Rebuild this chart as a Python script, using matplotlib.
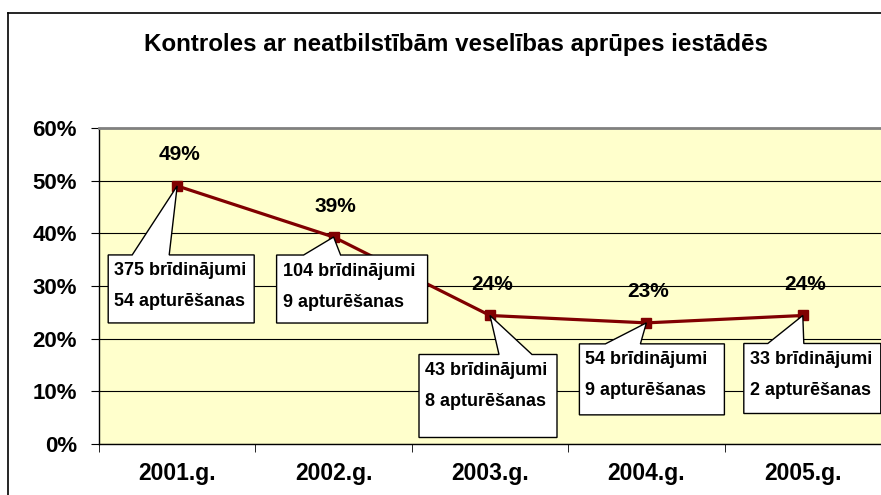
import matplotlib
matplotlib.use("Agg")
import matplotlib.pyplot as plt
from matplotlib.patches import Polygon
from matplotlib.lines import Line2D
from matplotlib.transforms import IdentityTransform

plt.rcParams['font.family'] = ['Liberation Sans', 'DejaVu Sans']

years = ['2001.g.', '2002.g.', '2003.g.', '2004.g.', '2005.g.']
share = [0.49, 0.393, 0.244, 0.23, 0.244]
warnings = [375, 104, 43, 54, 33]
suspensions = [54, 9, 8, 9, 2]

# callout layout in pixels relative to the point: box left, right, top, bottom, wedge base left, right
callouts = [
    (-69, 77, 69, 137, -45, -8),
    (-57, 94, 18, 86, -30, 7),
    (-71, 67, 39, 122, 9, 42),
    (-67, 78, 21, 92, -41, -6),
    (-59, 78, 28, 98, -35, 1),
]

W, H = 881, 495
fig = plt.figure(figsize=(W / 100, H / 100), dpi=100)
ax = fig.add_axes([99 / W, 51 / H, 782 / W, 316 / H])
ax.set_facecolor('#FFFFCC')

x = list(range(len(years)))
ax.plot(x, share, color='#800000', lw=2.3, marker='s', ms=7, zorder=3)

ax.set_xlim(-0.5, len(years) - 0.5)
ax.set_ylim(0, 0.6)
ax.set_yticks([i / 10 for i in range(7)])
ax.set_yticklabels([f"{i * 10}%" for i in range(7)], fontsize=16, fontweight='bold')
ax.set_xticks(x)
ax.set_xticklabels(years, fontsize=16.5, fontweight='bold')
ax.set_xticks([i - 0.5 for i in range(len(years) + 1)], minor=True)
ax.tick_params(axis='x', which='major', length=0, pad=13)
ax.tick_params(axis='x', which='minor', length=6, direction='out')
ax.tick_params(axis='y', length=6, direction='out', pad=10)
ax.grid(axis='y', color='black', lw=0.8)
ax.set_axisbelow(True)
for s in ['left', 'bottom']:
    ax.spines[s].set_color('black')
    ax.spines[s].set_linewidth(1.0)
ax.spines['top'].set_color('#808080')
ax.spines['top'].set_linewidth(2)
ax.spines['right'].set_visible(False)

fig.text(456 / W, 1 - 45 / H, 'Kontroles ar neatbilstībām veselības aprūpes iestādēs',
         ha='center', va='center', fontsize=17.4, fontweight='bold')

# outer chart border (left and top visible)
fig.add_artist(Line2D([8 / W, 8 / W], [0, 1 - 13 / H], color='black', lw=1.2))
fig.add_artist(Line2D([8 / W, 1], [1 - 13 / H, 1 - 13 / H], color='black', lw=1.2))

for i, v in enumerate(share):
    ax.annotate(f"{v:.0%}", (i, v), xytext=(2, 31), textcoords='offset pixels',
                ha='center', va='center', fontsize=15, fontweight='bold')

for i, v in enumerate(share):
    tx, ty = ax.transData.transform((i, v))
    bl, br, bt, bb, wl, wr = callouts[i]
    pts = [(tx + bl, ty - bt), (tx + wl, ty - bt), (tx, ty), (tx + wr, ty - bt),
           (tx + br, ty - bt), (tx + br, ty - bb), (tx + bl, ty - bb)]
    fig.add_artist(Polygon(pts, closed=True, facecolor='white', edgecolor='black',
                           lw=1.0, transform=IdentityTransform(), zorder=5))
    fig.text(tx + bl + 6, ty - bt - 16, f"{warnings[i]} brīdinājumi",
             transform=IdentityTransform(), ha='left', va='center',
             fontsize=13, fontweight='bold', zorder=6)
    fig.text(tx + bl + 6, ty - bt - 47, f"{suspensions[i]} apturēšanas",
             transform=IdentityTransform(), ha='left', va='center',
             fontsize=13, fontweight='bold', zorder=6)

fig.savefig('out.png', dpi=100)
